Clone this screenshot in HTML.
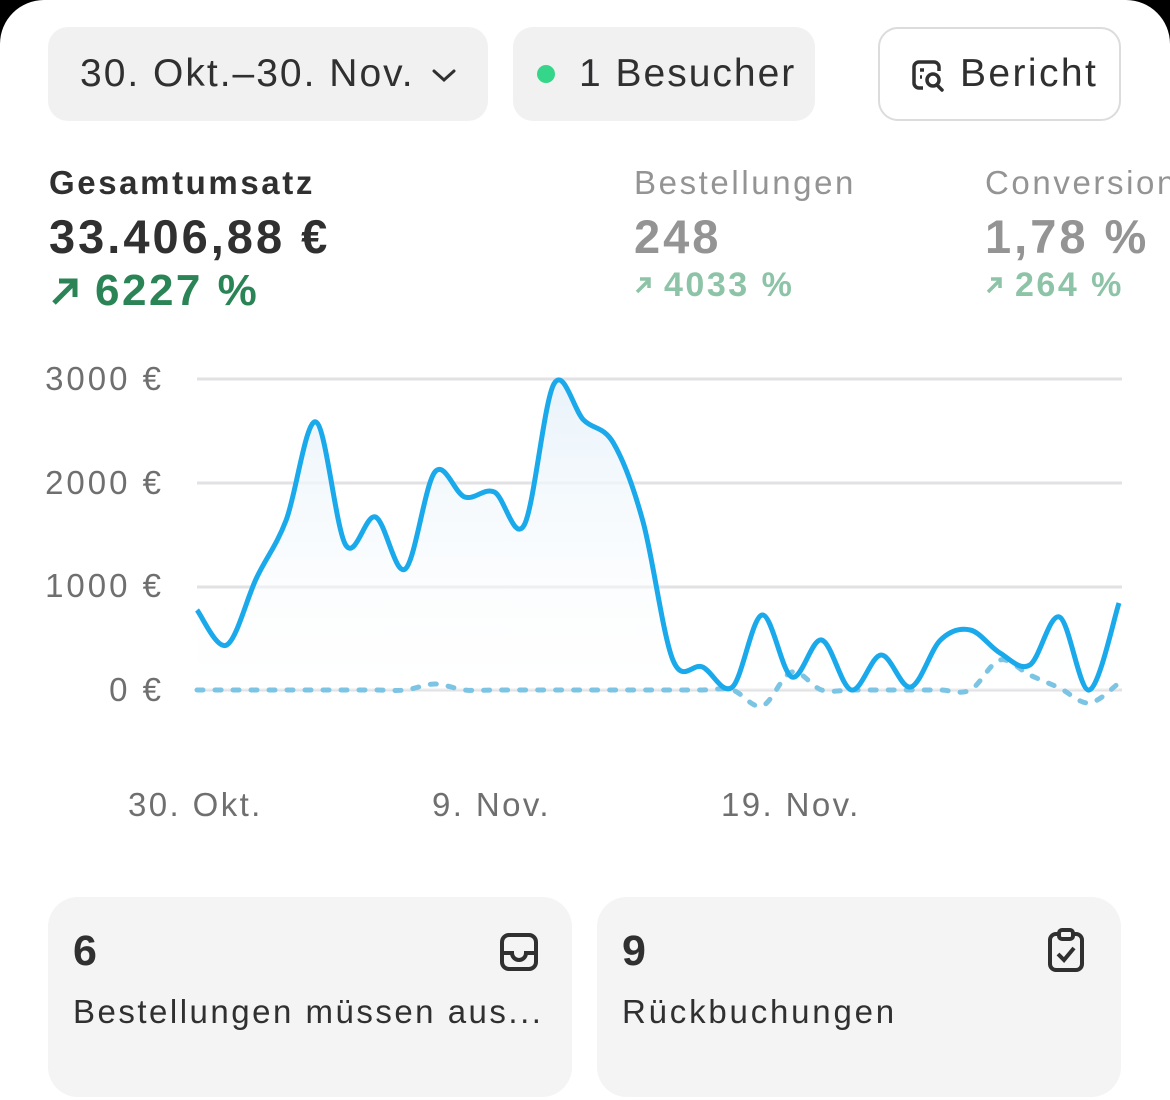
<!DOCTYPE html>
<html><head><meta charset="utf-8">
<style>
html,body{margin:0;padding:0;width:1170px;height:1058px;overflow:hidden;background:#000;}
#wrap{position:absolute;left:0;top:0;width:1170px;height:1100px;background:#fff;border-radius:44px 44px 0 0;font-family:"Liberation Sans",sans-serif;color:#303030;letter-spacing:2.4px;}
.abs{position:absolute;white-space:nowrap;}
.pill{position:absolute;top:27px;height:94px;border-radius:20px;background:#f1f1f2;box-sizing:border-box;}
.pt{font-size:39px;line-height:94px;color:#303030;letter-spacing:2px;}
.card{position:absolute;top:897px;height:200px;width:524px;border-radius:30px;background:#f4f4f5;}
.yl{position:absolute;right:1006px;font-size:33px;color:#6f6f6f;letter-spacing:3px;}
.xl{position:absolute;top:786px;font-size:33px;color:#6f6f6f;letter-spacing:2.4px;}
</style></head><body>
<div id="wrap">
<div class="pill" style="left:48px;width:440px;"><span class="abs pt" style="left:32px;">30. Okt.–30. Nov.</span>
<svg class="abs" style="left:382px;top:40px" width="28" height="18"><path d="M4 4 L14 13 L24 4" fill="none" stroke="#303030" stroke-width="3" stroke-linecap="round"/></svg></div>
<div class="pill" style="left:513px;width:302px;"><div class="abs" style="left:24px;top:38px;width:18px;height:18px;border-radius:50%;background:#36d68a"></div><span class="abs pt" style="left:66px;">1 Besucher</span></div>
<div class="pill" style="left:878px;width:243px;background:#fff;border:2px solid #dcdcdc;"><svg class="abs" style="left:30px;top:29px" width="36" height="36" viewBox="0 0 36 36"><path d="M24 4 H9 a5 5 0 0 0 -5 5 v16 a5 5 0 0 0 5 5 h4" fill="none" stroke="#303030" stroke-width="3.5"/><path d="M24 4 a5 5 0 0 1 5 5 v4" fill="none" stroke="#303030" stroke-width="3.5"/><line x1="10" y1="12" x2="14" y2="12" stroke="#303030" stroke-width="3.5"/><line x1="10" y1="19" x2="12" y2="19" stroke="#303030" stroke-width="3.5"/><circle cx="23" cy="22" r="6" fill="none" stroke="#303030" stroke-width="3.5"/><line x1="27" y1="27" x2="32" y2="32" stroke="#303030" stroke-width="3.5" stroke-linecap="round"/></svg><span class="abs pt" style="left:80px;top:-2px;letter-spacing:2.4px">Bericht</span></div>

<div class="abs" style="left:49px;top:164px;font-size:33px;font-weight:bold;color:#303030;letter-spacing:2.6px">Gesamtumsatz</div>
<div class="abs" style="left:49px;top:209px;font-size:47px;font-weight:bold;color:#303030;letter-spacing:3px">33.406,88 €</div>
<div class="abs" style="left:49px;top:266px;font-size:44px;font-weight:bold;color:#2a8456;letter-spacing:2.5px"><svg width="32" height="32" style="vertical-align:-2px;margin-right:14px"><path d="M5 28 L26 7 M10 6 H26 V22" fill="none" stroke="#2a8456" stroke-width="5"/></svg>6227 %</div>

<div class="abs" style="left:634px;top:164px;font-size:33px;color:#949494;letter-spacing:2.6px">Bestellungen</div>
<div class="abs" style="left:634px;top:209px;font-size:47px;font-weight:bold;color:#949494;letter-spacing:3px">248</div>
<div class="abs" style="left:634px;top:266px;font-size:34px;font-weight:bold;color:#8dc3a7;letter-spacing:2.5px"><svg width="18" height="18" style="vertical-align:2px;margin-right:12px"><path d="M3 16 L15 4 M6 3 H15 V12" fill="none" stroke="#8dc3a7" stroke-width="3.5"/></svg>4033 %</div>

<div class="abs" style="left:985px;top:164px;font-size:33px;color:#949494;letter-spacing:2.6px">Conversion</div>
<div class="abs" style="left:985px;top:209px;font-size:47px;font-weight:bold;color:#949494;letter-spacing:3px">1,78 %</div>
<div class="abs" style="left:985px;top:266px;font-size:34px;font-weight:bold;color:#8dc3a7;letter-spacing:2.5px"><svg width="18" height="18" style="vertical-align:2px;margin-right:12px"><path d="M3 16 L15 4 M6 3 H15 V12" fill="none" stroke="#8dc3a7" stroke-width="3.5"/></svg>264 %</div>

<div class="yl" style="top:360px">3000 €</div>
<div class="yl" style="top:464px">2000 €</div>
<div class="yl" style="top:567px">1000 €</div>
<div class="yl" style="top:671px">0 €</div>
<div class="xl" style="left:128px">30. Okt.</div>
<div class="xl" style="left:432px">9. Nov.</div>
<div class="xl" style="left:721px">19. Nov.</div>

<svg id="ch" class="abs" style="left:0;top:0" width="1170" height="760">
<defs><linearGradient id="g" x1="0" y1="0" x2="0" y2="1"><stop offset="0" stop-color="#e9f3fa"/><stop offset="1" stop-color="#ffffff" stop-opacity="0.3"/></linearGradient></defs>
<line x1="197" y1="379" x2="1122" y2="379" stroke="#e2e2e4" stroke-width="3"/>
<line x1="197" y1="483" x2="1122" y2="483" stroke="#e2e2e4" stroke-width="3"/>
<line x1="197" y1="587" x2="1122" y2="587" stroke="#e2e2e4" stroke-width="3"/>
<line x1="197" y1="690" x2="1122" y2="690" stroke="#e2e2e4" stroke-width="3"/>
<path id="area" fill="url(#g)"/>
<path id="dash" fill="none" stroke="#7cc4e4" stroke-width="5" stroke-dasharray="6 12" stroke-linecap="round"/>
<path id="main" fill="none" stroke="#1aa9ea" stroke-width="5"/>
</svg>

<div class="card" style="left:48px"><div class="abs" style="left:25px;top:30px;font-size:43px;font-weight:bold;color:#303030">6</div>
<svg class="abs" style="left:450px;top:34px" width="42" height="42" viewBox="0 0 42 42"><rect x="4" y="4" width="34" height="34" rx="7" fill="none" stroke="#303030" stroke-width="4"/><path d="M4 22 H14 a7 7 0 0 0 14 0 H38" fill="none" stroke="#303030" stroke-width="4"/></svg>
<div class="abs" style="left:25px;top:96px;font-size:33px;color:#303030;letter-spacing:2.5px">Bestellungen müssen aus...</div></div>
<div class="card" style="left:597px"><div class="abs" style="left:25px;top:30px;font-size:43px;font-weight:bold;color:#303030">9</div>
<svg class="abs" style="left:448px;top:30px" width="42" height="46" viewBox="0 0 42 46"><rect x="5" y="7" width="32" height="36" rx="6" fill="none" stroke="#303030" stroke-width="4"/><rect x="14" y="3" width="14" height="9" rx="3" fill="#f4f4f5" stroke="#303030" stroke-width="4"/><path d="M13 27 L19 33 L29 21" fill="none" stroke="#303030" stroke-width="4"/></svg>
<div class="abs" style="left:25px;top:96px;font-size:33px;color:#303030;letter-spacing:2.8px">Rückbuchungen</div></div>
</div>
<script>
function path(p){let d="M"+p[0][0]+" "+p[0][1];for(let i=0;i<p.length-1;i++){const a=p[Math.max(0,i-1)],b=p[i],c=p[i+1],e=p[Math.min(p.length-1,i+2)];const c1=[b[0]+(c[0]-a[0])/6,b[1]+(c[1]-a[1])/6],c2=[c[0]-(e[0]-b[0])/6,c[1]-(e[1]-b[1])/6];d+=" C"+c1.join(" ")+" "+c2.join(" ")+" "+c.join(" ");}return d;}
const ys=[610,645,578,520,422,545,517,569,472,497,492,525,384,420,443,522,660,667,687,615,677,640,690,655,687,640,630,653,665,617,690,603];
const st=(1119-197)/31;
const pts=ys.map((y,i)=>[+(197+i*st).toFixed(1),y]);
const d=path(pts);
document.getElementById('main').setAttribute('d',d);
document.getElementById('area').setAttribute('d',d+" L1119 690 L197 690 Z");
const dy=[690,690,690,690,690,690,690,690,684,690,690,690,690,690,690,690,690,690,690,706,672,690,690,690,690,690,690,660,675,688,703,683];
document.getElementById('dash').setAttribute('d',path(dy.map((y,i)=>[+(197+i*st).toFixed(1),y])));
</script>
</body></html>
